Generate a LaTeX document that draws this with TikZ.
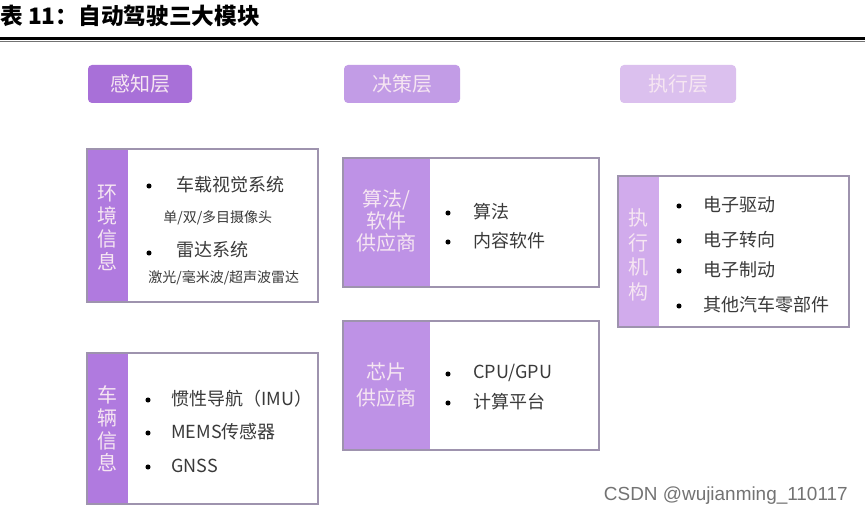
\documentclass[tikz,border=0pt]{standalone}
\usepackage{fontspec}
\setmainfont{Noto Sans CJK SC}
\newfontfamily\cjk{Noto Sans CJK SC}
\setsansfont{Liberation Sans}
\definecolor{hdrA}{HTML}{A870D8}
\definecolor{hdrB}{HTML}{C29CE6}
\definecolor{hdrC}{HTML}{DBC0EE}
\definecolor{stripA}{HTML}{B07ADF}
\definecolor{stripB}{HTML}{BE92E6}
\definecolor{stripC}{HTML}{D1ABEC}
\definecolor{frameC}{HTML}{9E93AE}
\definecolor{txtC}{HTML}{3A3A3A}
\definecolor{stripTxt}{HTML}{F6E6F2}
\tikzset{
  hdrtext/.style={text=stripTxt, font=\cjk\fontsize{15}{15}\selectfont},
  framebox/.style={draw=frameC, line width=1.5pt, fill=white},
  striptext/.style={text=stripTxt, align=center},
  item/.style={anchor=west, text=txtC, font=\cjk\fontsize{13.5}{14}\selectfont, inner sep=0pt},
  smallitem/.style={anchor=west, text=txtC, font=\cjk\fontsize{10.5}{11}\selectfont, inner sep=0pt},
  bul/.style={circle, fill=black, inner sep=0pt, minimum size=3.8pt},
}
\begin{document}
\begin{tikzpicture}[x=0.75pt,y=-0.75pt]
\useasboundingbox (0,0) rectangle (865,516);
\fill[white] (0,0) rectangle (865,516);
% title
\node[anchor=west, inner sep=0pt, font=\cjk\bfseries\fontsize{17}{17}\selectfont] (title) at (0,16) {表 11：自动驾驶三大模块};
\draw[line width=1.6pt, black] (0,38.5) -- (865,38.5);
\draw[line width=0.6pt, black!55] (0,41.5) -- (865,41.5);
% headers
\fill[hdrA, rounded corners=3pt] (88,65) rectangle (192,103);
\node[hdrtext] (h1) at (140,84) {感知层};
\fill[hdrB, rounded corners=3pt] (344,65) rectangle (460,103);
\node[hdrtext] (h2) at (402,84) {决策层};
\fill[hdrC, rounded corners=3pt] (620,65) rectangle (736,103);
\node[hdrtext] (h3) at (678,84) {执行层};
% box 1
\draw[framebox] (87,149) rectangle (318,302);
\fill[stripA] (87,149) rectangle (128,302);
\draw[frameC, line width=1.5pt] (87,149) rectangle (318,302);
\node[striptext, font=\cjk\fontsize{15}{17.3}\selectfont] (s1) at (107.5,228) {环\\境\\信\\息};
\node[bul] (b11) at (149,186) {};
\node[item] (t11) at (176,185) {车载视觉系统};
\node[smallitem] (t12) at (163,218) {单/双/多目摄像头};
\node[bul] (b12) at (149,253) {};
\node[item] (t13) at (176,250) {雷达系统};
\node[smallitem] (t14) at (148,278) {激光/毫米波/超声波雷达};
% box 2
\draw[framebox] (87,353) rectangle (318,504);
\fill[stripA] (87,353) rectangle (128,504);
\draw[frameC, line width=1.5pt] (87,353) rectangle (318,504);
\node[striptext, font=\cjk\fontsize{15}{17}\selectfont] (s2) at (107.5,429) {车\\辆\\信\\息};
\node[bul] (b21) at (148,400) {};
\node[item] (t21) at (171,399) {惯性导航（IMU）};
\node[bul] (b22) at (148,433) {};
\node[item] (t22) at (171,432) {MEMS传感器};
\node[bul] (b23) at (148,467) {};
\node[item] (t23) at (171,466) {GNSS};
% box 3
\draw[framebox] (343,158) rectangle (599,287);
\fill[stripB] (343,158) rectangle (430,287);
\draw[frameC, line width=1.5pt] (343,158) rectangle (599,287);
\node[striptext, font=\cjk\fontsize{15}{16.5}\selectfont] (s3) at (386.5,221) {算法/\\软件\\供应商};
\node[bul] (b31) at (448,213) {};
\node[item] (t31) at (473,212) {算法};
\node[bul] (b32) at (448,242) {};
\node[item] (t32) at (473,241) {内容软件};
% box 4
\draw[framebox] (343,321) rectangle (599,450);
\fill[stripB] (343,321) rectangle (430,450);
\draw[frameC, line width=1.5pt] (343,321) rectangle (599,450);
\node[striptext, font=\cjk\fontsize{15}{19.5}\selectfont] (s4) at (386.5,385) {芯片\\供应商};
\node[bul] (b41) at (448,374) {};
\node[item] (t41) at (473,373) {CPU/GPU};
\node[bul] (b42) at (448,403) {};
\node[item] (t42) at (473,402) {计算平台};
% box 5
\draw[framebox] (618,176) rectangle (849,327);
\fill[stripC] (618,176) rectangle (659,327);
\draw[frameC, line width=1.5pt] (618,176) rectangle (849,327);
\node[striptext, font=\cjk\fontsize{15}{18.5}\selectfont] (s5) at (638.5,255) {执\\行\\机\\构};
\node[bul] (b51) at (679,206) {};
\node[item] (t51) at (703,205) {电子驱动};
\node[bul] (b52) at (679,241) {};
\node[item] (t52) at (703,240) {电子转向};
\node[bul] (b53) at (679,271) {};
\node[item] (t53) at (703,270) {电子制动};
\node[bul] (b54) at (679,306) {};
\node[item] (t54) at (703,305) {其他汽车零部件};
% watermark
\node[anchor=east, inner sep=0pt, text=black!55, font=\sffamily\fontsize{14.2}{14.2}\selectfont] (wm) at (848,496) {CSDN @wujianming\_110117};
\end{tikzpicture}
\end{document}
